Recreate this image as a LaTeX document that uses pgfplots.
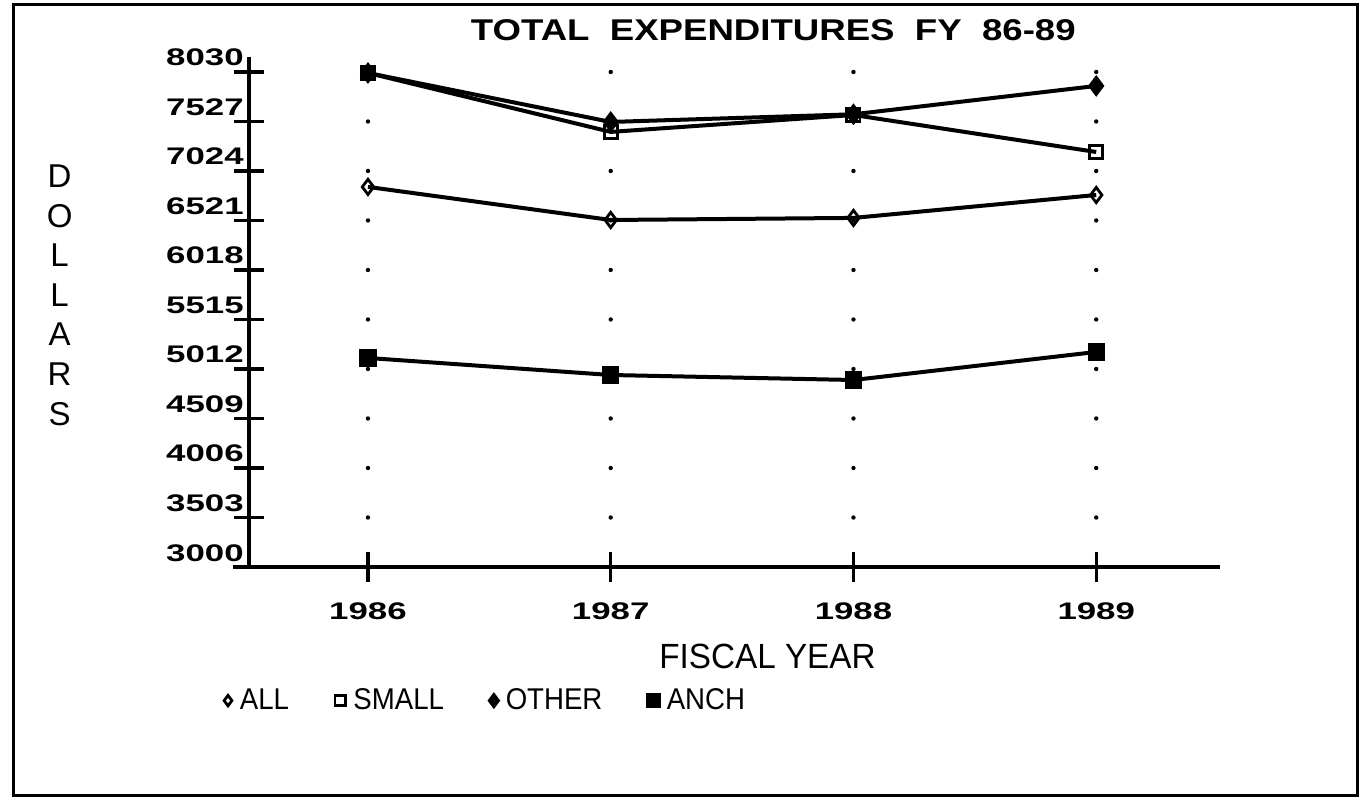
\documentclass[border=0pt]{standalone}
\usepackage{pgfplots}
\pgfplotsset{compat=1.18}
\usepackage{fontspec}
\setmainfont{Liberation Sans}
\newfontfamily\tickfont[FakeStretch=1.45]{Liberation Sans}
\newfontfamily\titlefont[FakeStretch=1.22]{Liberation Sans}
\newfontfamily\labfont[FakeStretch=0.95]{Liberation Sans}
\newfontfamily\legfont[FakeStretch=0.92]{Liberation Sans}
\begin{document}
\begin{tikzpicture}
\begin{axis}[
  at={(124.5pt,115.5pt)}, anchor=south west,
  scale only axis, width=485.5pt, height=255pt,
  xmin=1985.51, xmax=1989.51,
  ymin=3000, ymax=8182,
  axis x line*=bottom, axis y line*=left,
  axis line style={line width=1.6pt, -},
  x axis line style={shorten <=-8pt},
  xtick={1986,1987,1988,1989},
  xticklabels={1986,1987,1988,1989},
  ytick={3000,3503,4006,4509,5012,5515,6018,6521,7024,7527,8030},
  yticklabels={3000,3503,4006,4509,5012,5515,6018,6521,7024,7527,8030},
  tick align=center, major tick length=15pt,
  tick style={line width=1.6pt, black},
  ticklabel style={font=\tickfont\bfseries\fontsize{12}{14}\selectfont},
  yticklabel style={anchor=base east, inner sep=0pt, xshift=5pt, yshift=3pt},
  xticklabel style={anchor=center, inner sep=0pt, yshift=-14.5pt},
  xmajorgrids,
  major grid style={draw=black, line width=2.2pt, line cap=round, dash pattern=on 0pt off 24.752pt},
  xlabel={FISCAL YEAR},
  xlabel style={at={(axis description cs:0.534,-0.175)}, anchor=center, font=\labfont\fontsize{17.5}{20}\selectfont},
  ylabel={D\\O\\L\\L\\A\\R\\S},
  ylabel style={at={(axis description cs:-0.195,0.533)}, rotate=-90, anchor=center, align=center, font=\fontsize{16.5}{19.8}\selectfont},
  legend columns=4,
  legend style={at={(axis description cs:-0.026,-0.262)}, anchor=west, draw=none, fill=none,
    font=\legfont\fontsize{15}{17}\selectfont, inner sep=0pt,
    /tikz/every odd column/.append style={column sep=2pt},
    /tikz/every even column/.append style={column sep=21pt}},
  legend image code/.code={\draw[#1, only marks, mark size=2.6pt] plot coordinates {(0.1cm,0cm)};},
  clip=false,
]
\addplot[black, line width=2pt, mark=diamond, mark size=3.8pt, mark options={solid, fill=white, line width=1.4pt}]
  coordinates {(1986,6862) (1987,6526) (1988,6547) (1989,6780)};
\addlegendentry{ALL}
\addplot[black, line width=2pt, mark=square, mark size=3.3pt, mark options={solid, fill=white, line width=1.4pt}]
  coordinates {(1986,8020) (1987,7421) (1988,7593) (1989,7217)};
\addlegendentry{SMALL}
\addplot[black, line width=2pt, mark=diamond*, mark size=3.8pt, mark options={solid, fill=black}]
  coordinates {(1986,8020) (1987,7522) (1988,7600) (1989,7888)};
\addlegendentry{OTHER}
\addplot[black, line width=2pt, mark=square*, mark size=3.3pt, mark options={solid, fill=black}]
  coordinates {(1986,5124) (1987,4951) (1988,4900) (1989,5185)};
\addlegendentry{ANCH}
\node[font=\titlefont\bfseries\fontsize{15}{18}\selectfont, anchor=center] at (axis description cs:0.540,1.053) {TOTAL\ \ EXPENDITURES\ \ FY\ \ 86-89};
\end{axis}
\draw[line width=1.5pt] (6.5pt,1.5pt) rectangle (678.5pt,396.5pt);
\pgfresetboundingbox
\path[use as bounding box] (0,0) rectangle (684pt,399pt);
\end{tikzpicture}
\end{document}
